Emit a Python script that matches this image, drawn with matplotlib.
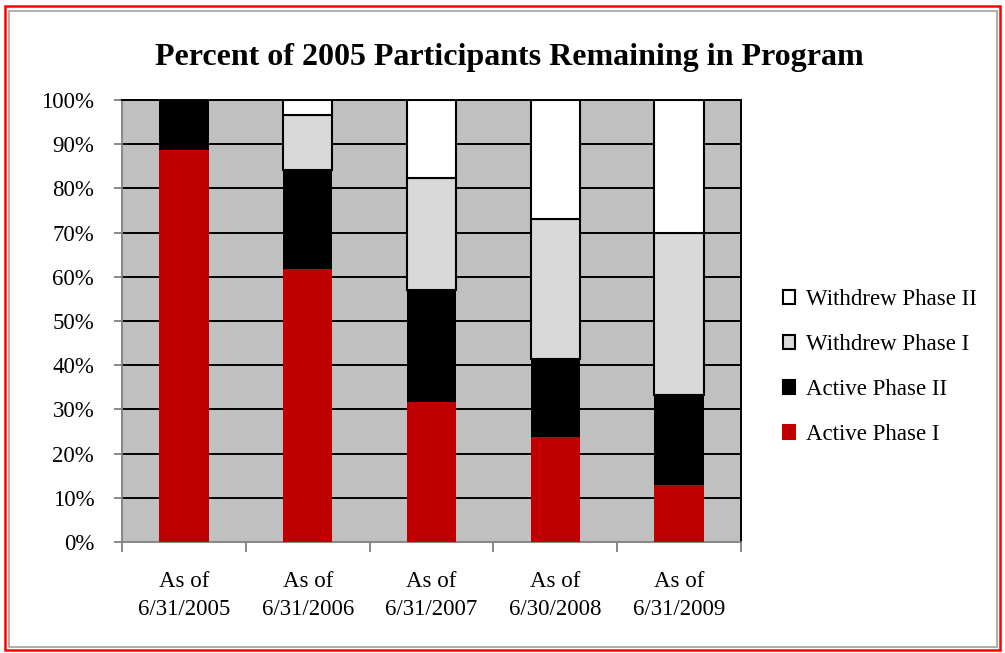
import matplotlib
matplotlib.use("Agg")
import matplotlib.pyplot as plt
from matplotlib.patches import Rectangle, Patch
import numpy as np

categories = ["As of\n6/31/2005", "As of\n6/31/2006", "As of\n6/31/2007", "As of\n6/30/2008", "As of\n6/31/2009"]
active_1 = [88.7, 61.8, 31.7, 23.8, 12.8]
active_2 = [11.3, 22.4, 25.3, 17.5, 20.5]
withdrew_1 = [0.0, 12.4, 25.4, 31.8, 36.5]
withdrew_2 = [0.0, 3.4, 17.6, 26.9, 30.2]
series_names = ["Active Phase I", "Active Phase II", "Withdrew Phase I", "Withdrew Phase II"]
yticks = [0, 10, 20, 30, 40, 50, 60, 70, 80, 90, 100]
title = "Percent of 2005 Participants Remaining in Program"

plt.rcParams['font.family'] = ['Liberation Serif', 'DejaVu Serif']

fig = plt.figure(figsize=(10.05, 6.53), dpi=100)
ax = fig.add_axes([122/1005, 1-542/653, (741-122)/1005, (542-100)/653])
ax.set_facecolor("#C0C0C0")

x = np.arange(len(categories))
w = 0.40
series = [active_1, active_2, withdrew_1, withdrew_2]
colors = ["#C00000", "#000000", "#D9D9D9", "#FFFFFF"]
edges = ["none", "none", "black", "black"]
bottom = np.zeros(len(categories))
handles = []
for vals, c, e, name in zip(series, colors, edges, series_names):
    v = np.array(vals)
    ax.bar(x, v, w, bottom=bottom, color=c, edgecolor=e, linewidth=1.5 if e != "none" else 0, zorder=3)
    bottom += v
    handles.append(Patch(facecolor=c, edgecolor=(e if e != "none" else c), linewidth=1.5, label=name))

ax.set_xlim(-0.5, len(categories) - 0.5)
ax.set_ylim(0, 100)
ax.set_yticks(yticks)
ax.set_yticklabels([f"{t}%" for t in yticks], fontsize=16.5)
for t in yticks[1:]:
    ax.axhline(t, color="black", lw=1.4, zorder=1)

ax.set_xticks(np.arange(-0.5, len(categories), 1.0))
ax.set_xticklabels([])
ax.set_xticks(x, minor=True)
ax.set_xticklabels(categories, minor=True, fontsize=16.5, linespacing=1.4)
ax.tick_params(axis="x", which="minor", length=0, pad=21)
ax.tick_params(axis="x", which="major", length=7, color="#808080", width=1.3)
ax.tick_params(axis="y", length=6, color="#808080", width=1.3, pad=14)

for s in ["left", "bottom"]:
    ax.spines[s].set_color("#808080")
    ax.spines[s].set_linewidth(1.3)
ax.spines["right"].set_color("black")
ax.spines["right"].set_linewidth(1.4)
ax.spines["top"].set_color("black")
ax.spines["top"].set_linewidth(1.4)

fig.text(0.507, 1-58/653, title, ha="center", va="center", fontsize=23, fontweight="bold")

leg = fig.legend(handles[::-1], series_names[::-1], loc="center left",
                 bbox_to_anchor=(762/1005, 1-367/653), frameon=False, fontsize=16.5,
                 handlelength=0.55, handleheight=0.55, handletextpad=0.45, labelspacing=1.05)

# borders
fig.patches.append(Rectangle((5/1005, 3/653), 995/1005, 644/653, transform=fig.transFigure,
                             fill=False, edgecolor="#FF0000", lw=1.8))
fig.patches.append(Rectangle((9/1005, 6/653), 988/1005, 636/653, transform=fig.transFigure,
                             fill=False, edgecolor="#A0A0A0", lw=1.2))

fig.savefig("out.png", dpi=100)
